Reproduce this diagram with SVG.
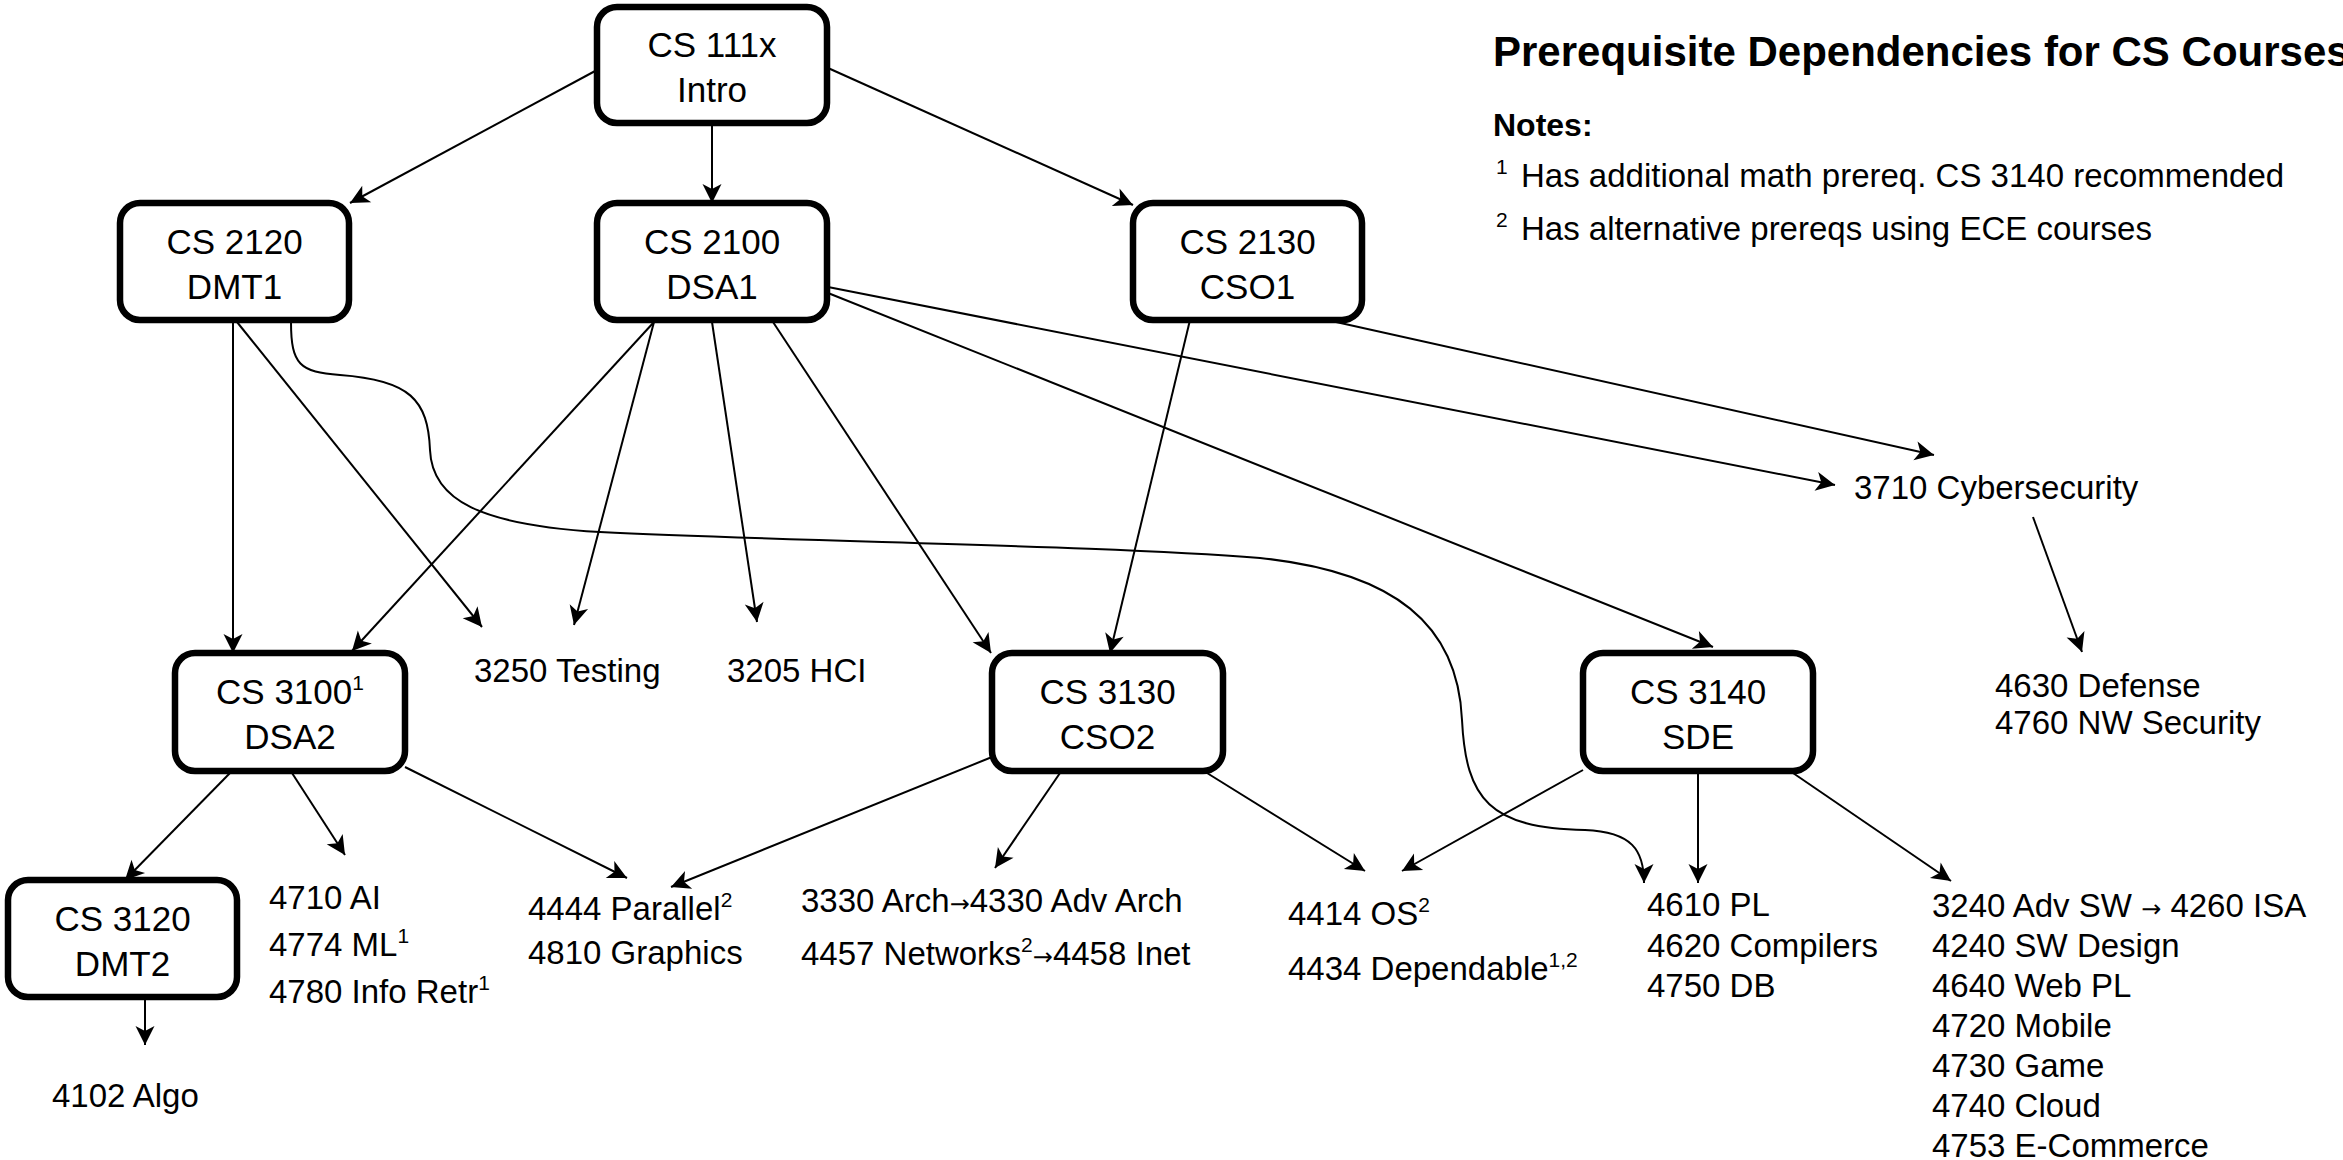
<svg xmlns="http://www.w3.org/2000/svg" width="2343" height="1160" viewBox="0 0 2343 1160">
<style>
.box{fill:#fff;stroke:#000;stroke-width:6.5}
.nt{font-family:"Liberation Sans",Arial,Helvetica,sans-serif;font-size:35px;text-anchor:middle;fill:#000}
.lb{font-family:"Liberation Sans",Arial,Helvetica,sans-serif;font-size:33px;fill:#000}
.ttl{font-family:"Liberation Sans",Arial,Helvetica,sans-serif;font-weight:bold;fill:#000}
.sup{font-size:21px}
.ar{font-family:"DejaVu Sans",sans-serif;font-size:24px}
.edge{fill:none;stroke:#000;stroke-width:2;marker-end:url(#arr)}
</style>
<defs>
<marker id="arr" markerUnits="userSpaceOnUse" markerWidth="26" markerHeight="26" viewBox="-22 -13 26 26" refX="0" refY="0" orient="auto">
<path d="M0,0 L-19,-9.5 L-14,0 L-19,9.5 Z" fill="#000"/>
</marker>
</defs>
<rect width="2343" height="1160" fill="#fff"/>
<g id="connectors">
<path class="edge" d="M597 70 L350 203"/>
<path class="edge" d="M712 123 L712 203"/>
<path class="edge" d="M828 68 L1133 205"/>
<path class="edge" d="M233 322 L233 653"/>
<path class="edge" d="M237 322 L482 627"/>
<path class="edge" d="M291 322 C291 365 300 372 340 375 C410 380 428 400 430 450 C432 500 480 525 600 532 C800 542 1100 545 1260 558 C1395 572 1458 625 1462 720 C1466 800 1490 828 1585 830 C1632 832 1644 850 1644 883"/>
<path class="edge" d="M654 322 L352 651"/>
<path class="edge" d="M654 322 L574 625"/>
<path class="edge" d="M712 322 L757 622"/>
<path class="edge" d="M773 322 L991 653"/>
<path class="edge" d="M828 287 L1835 485"/>
<path class="edge" d="M828 293 L1713 647"/>
<path class="edge" d="M1190 320 L1110 653"/>
<path class="edge" d="M1327 320 L1934 455"/>
<path class="edge" d="M2033 517 L2082 652"/>
<path class="edge" d="M230 773 L125 880"/>
<path class="edge" d="M292 773 L345 855"/>
<path class="edge" d="M405 767 L627 878"/>
<path class="edge" d="M992 757 L671 887"/>
<path class="edge" d="M1060 773 L995 868"/>
<path class="edge" d="M1207 773 L1365 871"/>
<path class="edge" d="M1583 770 L1402 871"/>
<path class="edge" d="M1698 772 L1698 883"/>
<path class="edge" d="M1793 773 L1951 881"/>
<path class="edge" d="M145 997 L145 1045"/>
</g>
<g id="cs111x"><rect class="box" x="597" y="7" width="230" height="116" rx="20"/><text class="nt" x="712" y="57">CS 111x</text><text class="nt" x="712" y="102">Intro</text></g>
<g id="cs2120"><rect class="box" x="120" y="203" width="229" height="117" rx="20"/><text class="nt" x="234.5" y="254">CS 2120</text><text class="nt" x="234.5" y="299">DMT1</text></g>
<g id="cs2100"><rect class="box" x="597" y="203" width="230" height="117" rx="20"/><text class="nt" x="712" y="254">CS 2100</text><text class="nt" x="712" y="299">DSA1</text></g>
<g id="cs2130"><rect class="box" x="1133" y="203" width="229" height="117" rx="20"/><text class="nt" x="1247.5" y="254">CS 2130</text><text class="nt" x="1247.5" y="299">CSO1</text></g>
<g id="cs3100"><rect class="box" x="175" y="653" width="230" height="118" rx="20"/><text class="nt" x="290" y="704">CS 3100<tspan class="sup" dy="-14">1</tspan></text><text class="nt" x="290" y="749">DSA2</text></g>
<g id="cs3130"><rect class="box" x="992" y="653" width="231" height="118" rx="20"/><text class="nt" x="1107.5" y="704">CS 3130</text><text class="nt" x="1107.5" y="749">CSO2</text></g>
<g id="cs3140"><rect class="box" x="1583" y="653" width="230" height="118" rx="20"/><text class="nt" x="1698" y="704">CS 3140</text><text class="nt" x="1698" y="749">SDE</text></g>
<g id="cs3120"><rect class="box" x="8" y="880" width="229" height="117" rx="20"/><text class="nt" x="122.5" y="931">CS 3120</text><text class="nt" x="122.5" y="976">DMT2</text></g>
<g id="testing"><text class="lb" x="474" y="682">3250 Testing</text></g>
<g id="hci"><text class="lb" x="727" y="682">3205 HCI</text></g>
<g id="cyber"><text class="lb" x="1854" y="499">3710 Cybersecurity</text></g>
<g id="defense"><text class="lb" x="1995" y="697">4630 Defense</text><text class="lb" x="1995" y="734">4760 NW Security</text></g>
<g id="ai"><text class="lb" x="269" y="909">4710 AI</text><text class="lb" x="269" y="956">4774 ML<tspan class="sup" dy="-13">1</tspan></text><text class="lb" x="269" y="1003">4780 Info Retr<tspan class="sup" dy="-13">1</tspan></text></g>
<g id="algo"><text class="lb" x="52" y="1107">4102 Algo</text></g>
<g id="parallel"><text class="lb" x="528" y="920">4444 Parallel<tspan class="sup" dy="-13">2</tspan></text><text class="lb" x="528" y="964">4810 Graphics</text></g>
<g id="arch"><text class="lb" x="801" y="912">3330 Arch<tspan class="ar">→</tspan>4330 Adv Arch</text><text class="lb" x="801" y="965">4457 Networks<tspan class="sup" dy="-13">2</tspan><tspan class="ar" dy="13">→</tspan>4458 Inet</text></g>
<g id="os"><text class="lb" x="1288" y="925">4414 OS<tspan class="sup" dy="-13">2</tspan></text><text class="lb" x="1288" y="980">4434 Dependable<tspan class="sup" dy="-13">1,2</tspan></text></g>
<g id="pl"><text class="lb" x="1647" y="916">4610 PL</text><text class="lb" x="1647" y="957">4620 Compilers</text><text class="lb" x="1647" y="997">4750 DB</text></g>
<g id="sw"><text class="lb" x="1932" y="917">3240 Adv SW <tspan class="ar">→</tspan> 4260 ISA</text><text class="lb" x="1932" y="957">4240 SW Design</text><text class="lb" x="1932" y="997">4640 Web PL</text><text class="lb" x="1932" y="1037">4720 Mobile</text><text class="lb" x="1932" y="1077">4730 Game</text><text class="lb" x="1932" y="1117">4740 Cloud</text><text class="lb" x="1932" y="1157">4753 E-Commerce</text></g>
<g id="title"><text class="ttl" x="1493" y="66" font-size="42">Prerequisite Dependencies for CS Courses</text></g>
<g id="notes"><text class="ttl" x="1493" y="136" font-size="32">Notes:</text>
<text class="lb" x="1496" y="187"><tspan class="sup" dy="-13">1</tspan><tspan x="1521" dy="13">Has additional math prereq. CS 3140 recommended</tspan></text>
<text class="lb" x="1496" y="240"><tspan class="sup" dy="-13">2</tspan><tspan x="1521" dy="13">Has alternative prereqs using ECE courses</tspan></text></g>
</svg>
